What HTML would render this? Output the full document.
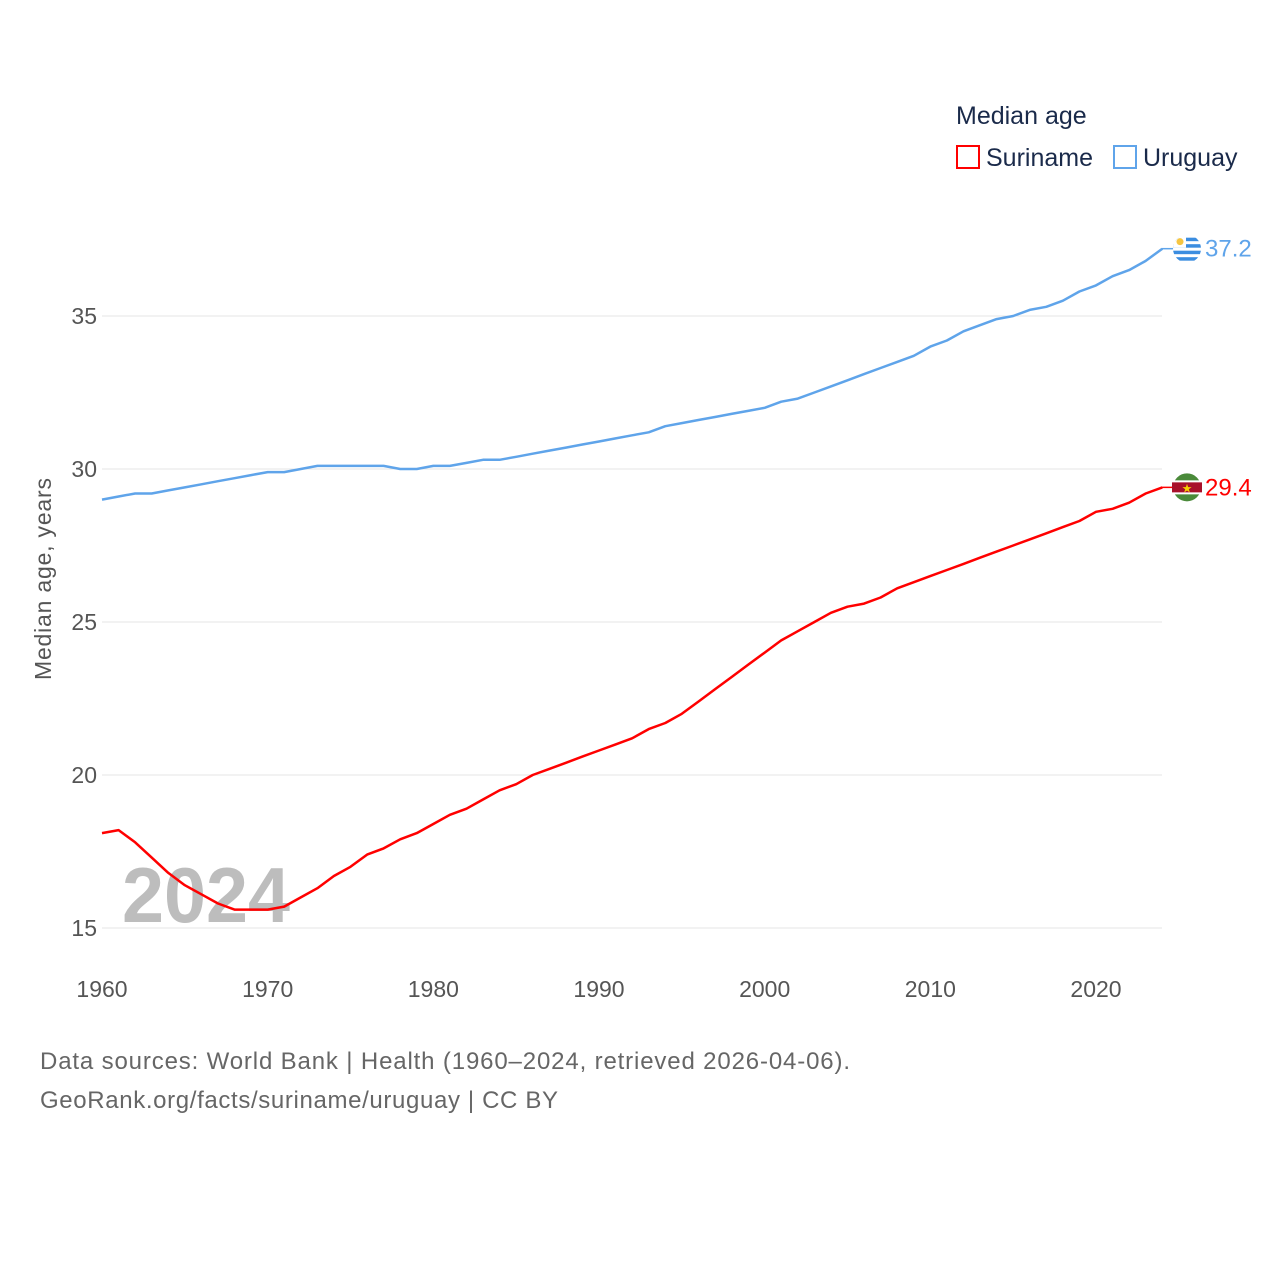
<!DOCTYPE html>
<html><head><meta charset="utf-8"><style>
body{margin:0;background:#fff;}
svg{display:block;font-family:"Liberation Sans",sans-serif;}
</style></head><body>
<svg id="chart" width="1280" height="1280" viewBox="0 0 1280 1280" xmlns="http://www.w3.org/2000/svg">
<defs><clipPath id="flagclipU"><circle cx="1187" cy="248" r="14"/></clipPath></defs>
<rect width="1280" height="1280" fill="#fff"/>
<g id="grid"></g>
<g id="ticks"></g>
<text x="122" y="922" font-size="78" font-weight="bold" fill="#bdbdbd" textLength="168" lengthAdjust="spacingAndGlyphs">2024</text>
<g id="lines"></g>
<text transform="translate(51,579) rotate(-90)" text-anchor="middle" font-size="23" fill="#555" textLength="202">Median age, years</text>
<g>
<text x="956" y="124" font-size="25" fill="#1a2a4a">Median age</text>
<rect x="957" y="146" width="22" height="22" fill="none" stroke="#ff0000" stroke-width="2"/>
<text x="986" y="166" font-size="25" fill="#1a2a4a">Suriname</text>
<rect x="1114" y="146" width="22" height="22" fill="none" stroke="#5fa4ea" stroke-width="2"/>
<text x="1143" y="166" font-size="25" fill="#1a2a4a">Uruguay</text>
</g>
<text x="40" y="1069" font-size="24" fill="#666" textLength="810">Data sources: World Bank | Health (1960–2024, retrieved 2026-04-06).</text>
<text x="40" y="1108" font-size="24" fill="#666" textLength="518">GeoRank.org/facts/suriname/uruguay | CC BY</text>
</svg>
<script>
const years = [];
for (let y = 1960; y <= 2024; y++) years.push(y);
const uruguay = [29.0,29.1,29.2,29.2,29.3,29.4,29.5,29.6,29.7,29.8,29.9,29.9,30.0,30.1,30.1,30.1,30.1,30.1,30.0,30.0,30.1,30.1,30.2,30.3,30.3,30.4,30.5,30.6,30.7,30.8,30.9,31.0,31.1,31.2,31.4,31.5,31.6,31.7,31.8,31.9,32.0,32.2,32.3,32.5,32.7,32.9,33.1,33.3,33.5,33.7,34.0,34.2,34.5,34.7,34.9,35.0,35.2,35.3,35.5,35.8,36.0,36.3,36.5,36.8,37.2];
const suriname = [18.1,18.2,17.8,17.3,16.8,16.4,16.1,15.8,15.6,15.6,15.6,15.7,16.0,16.3,16.7,17.0,17.4,17.6,17.9,18.1,18.4,18.7,18.9,19.2,19.5,19.7,20.0,20.2,20.4,20.6,20.8,21.0,21.2,21.5,21.7,22.0,22.4,22.8,23.2,23.6,24.0,24.4,24.7,25.0,25.3,25.5,25.6,25.8,26.1,26.3,26.5,26.7,26.9,27.1,27.3,27.5,27.7,27.9,28.1,28.3,28.6,28.7,28.9,29.2,29.4];
const yTicks = [15,20,25,30,35];
const xTicks = [1960,1970,1980,1990,2000,2010,2020];

const NS = "http://www.w3.org/2000/svg";
const xS = v => 102 + (v - 1960) * (994 / 60);
const yS = v => 469 - (v - 30) * 30.6;
function mk(tag, attrs, parent) {
  const e = document.createElementNS(NS, tag);
  for (const k in attrs) e.setAttribute(k, attrs[k]);
  parent.appendChild(e);
  return e;
}
const grid = document.getElementById('grid'), ticks = document.getElementById('ticks'), lines = document.getElementById('lines');
yTicks.forEach(t => {
  const l = mk('line', {x1: 102, x2: 1162, y1: yS(t), y2: yS(t), stroke: '#e6e6e6', 'stroke-width': 1}, grid);
  
  
  const tx = mk('text', {x: 97, y: yS(t) + 8, 'text-anchor': 'end', 'font-size': 23, fill: '#555'}, ticks);
  tx.textContent = t;
  
  
});
xTicks.forEach(t => {
  const tx = mk('text', {x: xS(t), y: 997, 'text-anchor': 'middle', 'font-size': 23, fill: '#555'}, ticks);
  tx.textContent = t;
  
  
});
function series(vals, color, name) {
  const d = vals.map((v, i) => (i ? 'L' : 'M') + xS(years[i]).toFixed(1) + ',' + yS(v).toFixed(1)).join('');
  const p = mk('path', {d: d, fill: 'none', stroke: color, 'stroke-width': 2.5, 'stroke-linejoin': 'round'}, lines);
  
  
  const last = vals[vals.length - 1];
  const yy = yS(last);
  mk('line', {x1: 1162, x2: 1176, y1: yy, y2: yy, stroke: color, 'stroke-width': 1.5}, lines);
  const g = mk('g', {}, lines);
  
  
  if (name === 'uruguay') {
    document.querySelector('#flagclipU circle').setAttribute('cy', yy);
    g.setAttribute('clip-path', 'url(#flagclipU)');
    mk('circle', {cx: 1187, cy: yy, r: 14, fill: '#fff'}, g);
    for (let i = 0; i < 4; i++) mk('rect', {x: 1173, y: yy - 11 + i * 6.5, width: 28, height: 3.5, fill: '#3b8de0'}, g);
    mk('rect', {x: 1173, y: yy - 14, width: 13, height: 13, fill: '#fff'}, g);
    mk('circle', {cx: 1180, cy: yy - 7, r: 3.5, fill: '#f5c542'}, g);
  } else {
    mk('circle', {cx: 1187, cy: yy, r: 14, fill: '#4a8a3a'}, g);
    mk('rect', {x: 1172, y: yy - 7, width: 30, height: 14, fill: '#fff'}, g);
    mk('rect', {x: 1172, y: yy - 5, width: 30, height: 10, fill: '#a8102a'}, g);
    mk('text', {x: 1187, y: yy + 5, 'text-anchor': 'middle', 'font-size': 12, fill: '#f5d000'}, g).textContent = '★';
  }
  const lab = mk('text', {x: 1205, y: yy + 8, 'font-size': 24, fill: color}, lines);
  lab.textContent = last.toFixed(1);
  
  
}
series(uruguay, '#5fa4ea', 'uruguay');
series(suriname, '#ff0000', 'suriname');
</script>
</body></html>
